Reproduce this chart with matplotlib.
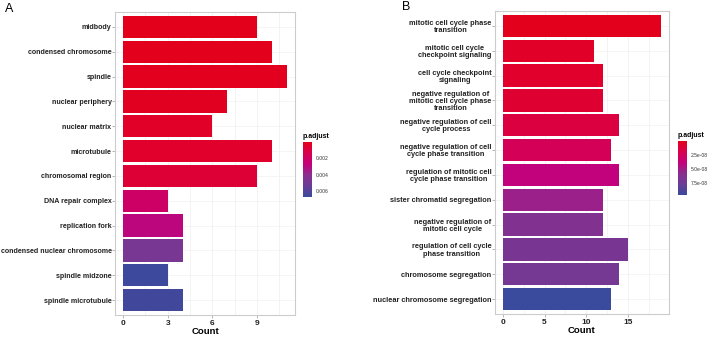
import numpy as np
import matplotlib.pyplot as plt
from matplotlib.colors import LinearSegmentedColormap, Normalize
from matplotlib.cm import ScalarMappable

plt.rcParams['font.family'] = ['Liberation Sans', 'DejaVu Sans']

# panel A: GO cellular component
terms_a = ["midbody", "condensed chromosome", "spindle", "nuclear periphery",
           "nuclear matrix", "microtubule", "chromosomal region", "DNA repair complex",
           "replication fork", "condensed nuclear chromosome", "spindle midzone",
           "spindle microtubule"]
count_a = [9, 10, 11, 7, 6, 10, 9, 3, 4, 4, 3, 4]
padj_a = [0.00008, 0.0001, 0.00015, 0.0002, 0.0004, 0.0005, 0.0008, 0.0021,
          0.0029, 0.0048, 0.0066, 0.0065]
ticks_a = [0, 3, 6, 9]
cbar_ticks_a = [0.002, 0.004, 0.006]
cbar_labels_a = ["0.002", "0.004", "0.006"]

# panel B: GO biological process
terms_b = ["mitotic cell cycle phase\ntransition",
           "mitotic cell cycle\ncheckpoint signaling",
           "cell cycle checkpoint\nsignaling",
           "negative regulation of\nmitotic cell cycle phase\ntransition",
           "negative regulation of cell\ncycle process",
           "negative regulation of cell\ncycle phase transition",
           "regulation of mitotic cell\ncycle phase transition",
           "sister chromatid segregation",
           "negative regulation of\nmitotic cell cycle",
           "regulation of cell cycle\nphase transition",
           "chromosome segregation",
           "nuclear chromosome segregation"]
count_b = [19, 11, 12, 12, 14, 13, 14, 12, 12, 15, 14, 13]
padj_b = [0.1e-8, 0.5e-8, 0.6e-8, 0.8e-8, 1.4e-8, 2.3e-8, 3.9e-8, 5.2e-8,
          6.3e-8, 6.8e-8, 7.0e-8, 9.6e-8]
ticks_b = [0, 5, 10, 15]
cbar_ticks_b = [2.5e-8, 5.0e-8, 7.5e-8]
cbar_labels_b = ["2.5e-08", "5.0e-08", "7.5e-08"]

cmap = LinearSegmentedColormap.from_list(
    "padj", ["#E3001B", "#D8004E", "#C4007C", "#8A2E8E", "#6A3D96", "#3A4A9C"])


def draw_panel(fig, rect, cbar_rect, terms, counts, padj, ticks, cticks, clabels,
               vmin, vmax, letter, letter_xy, label_size):
    ax = fig.add_axes(rect)
    norm = Normalize(vmin=vmin, vmax=vmax)
    y = np.arange(len(terms))[::-1]
    ax.barh(y, counts, height=0.9, color=cmap(norm(np.array(padj))), zorder=3)
    ax.set_yticks(y)
    ax.set_yticklabels(terms, fontsize=label_size, fontweight='bold',
                       multialignment='center', color='#222222', linespacing=1.05)
    ax.set_xticks(ticks)
    ax.set_xticklabels([str(t) for t in ticks], fontsize=6, fontweight='bold',
                       color='#222222')
    ax.set_xlabel("Count", fontsize=6.8, fontweight='bold', labelpad=0)
    ax.set_ylim(-0.6, len(terms) - 0.4)
    top = max(counts)
    ax.set_xlim(-0.05 * top, top * 1.05)
    minor = [(ticks[i] + ticks[i + 1]) / 2 for i in range(len(ticks) - 1)]
    minor.append(ticks[-1] + (ticks[1] - ticks[0]) / 2)
    ax.set_xticks(minor, minor=True)
    ax.tick_params(axis='x', which='minor', length=0)
    ax.grid(True, which='both', axis='x', color='#EEEEEE', linewidth=0.5, zorder=0)
    ax.grid(True, axis='y', color='#F2F2F2', linewidth=0.5, zorder=0)
    ax.tick_params(axis='both', which='major', length=2, width=0.5, color='#999999', pad=1.5)
    ax.tick_params(axis='y', pad=0.5)
    for s in ax.spines.values():
        s.set_color('#CCCCCC')
        s.set_linewidth(0.8)
    fig.text(letter_xy[0], letter_xy[1], letter, fontsize=9, va='top')

    cax = fig.add_axes(cbar_rect)
    cb = fig.colorbar(ScalarMappable(norm=norm, cmap=cmap), cax=cax)
    cb.set_ticks(cticks)
    cb.set_ticklabels(clabels)
    cb.outline.set_visible(False)
    cax.invert_yaxis()
    cax.tick_params(labelsize=3.6, length=2, width=0.4, color='white', pad=1,
                    labelcolor='#333333')
    cax.set_title("p.adjust", fontsize=5, fontweight='bold', loc='left', pad=3)
    return ax


fig = plt.figure(figsize=(7.09, 3.37), dpi=100)
W, H = 709, 337


def frac(x0, y0, x1, y1):
    return [x0 / W, 1 - y1 / H, (x1 - x0) / W, (y1 - y0) / H]


draw_panel(fig, frac(115, 12, 295, 315), frac(303, 142, 312, 197),
           terms_a, count_a, padj_a, ticks_a, cbar_ticks_a, cbar_labels_a,
           0.00006, 0.0067, "A", (5 / W, 1 - 3 / H), 5.15)
draw_panel(fig, frac(495, 11, 669, 314), frac(678, 141, 687, 195),
           terms_b, count_b, padj_b, ticks_b, cbar_ticks_b, cbar_labels_b,
           0.0, 9.6e-8, "B", (402 / W, 1 - 1 / H), 5.3)

fig.savefig("out.png", dpi=100)
